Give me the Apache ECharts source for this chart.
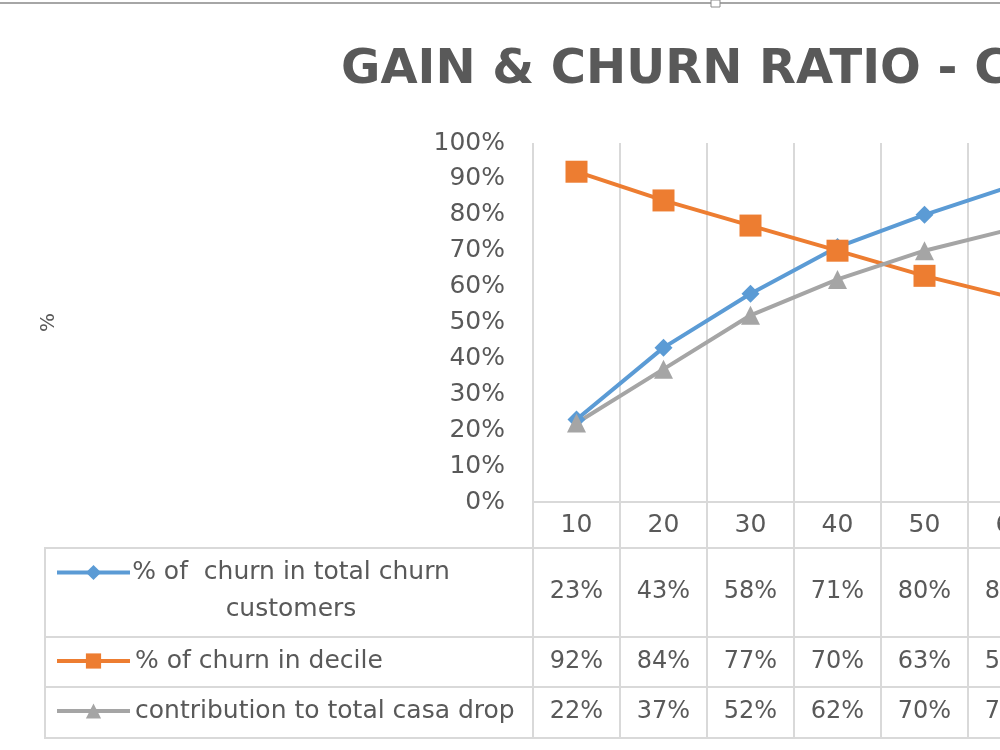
<!DOCTYPE html>
<html>
<head>
<meta charset="utf-8">
<script src="https://cdn.jsdelivr.net/npm/echarts@6/dist/echarts.min.js"></script>
<style>
  html, body { margin: 0; padding: 0; background: #fff; overflow: hidden; }
  #chart { width: 1100px; height: 750px; }
</style>
</head>
<body>
<div id="chart"></div>
<script>
// deciles (chart is cut on the right, only the first six show)
var categories = ['10', '20', '30', '40', '50', '60'];
var churnTotal = [23, 43, 58, 71, 80, 88];
var churnDecile = [92, 84, 77, 70, 63, 57];
var casaDrop = [22, 37, 52, 62, 70, 76];
var yTicks = [0, 10, 20, 30, 40, 50, 60, 70, 80, 90, 100];
var seriesNames = ['% of  churn in total churn\ncustomers', '% of churn in decile', 'contribution to total casa drop'];
var colors = ['#5b9bd5', '#ed7d31', '#a5a5a5'];

var grey = '#d9d9d9';
var txt = '#595959';
var font = 'DejaVu Sans';
var pct = function (v) { return v + '%'; };

var myChart = echarts.init(document.getElementById('chart'));

// one x axis per table row, stacked under the plot with offset
function rowAxis(data, offset, height, labelGap, size) {
    return {
        type: 'category',
        data: data,
        gridIndex: 0,
        position: 'bottom',
        offset: offset,
        axisLine: { onZero: false, lineStyle: { color: grey, width: 2 } },
        axisTick: { show: true, inside: false, length: height, lineStyle: { color: grey, width: 2 } },
        axisLabel: { interval: 0, margin: labelGap, verticalAlign: 'middle', color: txt, fontSize: size, fontFamily: font },
        splitLine: { show: false }
    };
}

var mainX = rowAxis(categories, 0, 46, 23, 25);
mainX.splitLine = { show: true, lineStyle: { color: grey, width: 2 } };

function legendFor(i, top, rich) {
    return {
        data: [seriesNames[i]],
        orient: 'vertical',
        left: 55,
        top: top,
        padding: 0,
        itemWidth: 73,
        itemHeight: 19,
        selectedMode: false,
        lineStyle: { width: 4 },
        formatter: rich ? function (n) {
            return '{a| }\n' + n.split('\n').map(function (l) { return '{a|' + l + '}'; }).join('\n');
        } : null,
        textStyle: {
            color: txt, fontSize: 25, fontFamily: font, lineHeight: 30,
            rich: { a: { color: txt, fontSize: 25, fontFamily: font, lineHeight: 37, width: 312, align: 'center' } }
        }
    };
}

var option = {
    animation: false,
    backgroundColor: '#fff',
    title: {
        text: 'GAIN & CHURN RATIO - CASA',
        left: 336,
        top: 42,
        textStyle: { color: txt, fontSize: 48, fontWeight: 'bold', fontFamily: font }
    },
    legend: [legendFor(0, 517, true), legendFor(1, 646), legendFor(2, 696)],
    grid: { left: 533, top: 143, width: 522, height: 359, containLabel: false },
    xAxis: [
        mainX,
        rowAxis(churnTotal.map(pct), 46, 89, 44, 24),
        rowAxis(churnDecile.map(pct), 135, 50, 25, 24),
        rowAxis(casaDrop.map(pct), 185, 51, 25, 24)
    ],
    yAxis: {
        type: 'value',
        min: yTicks[0],
        max: yTicks[yTicks.length - 1],
        interval: yTicks[1] - yTicks[0],
        name: '%',
        nameLocation: 'middle',
        nameGap: 474,
        nameTextStyle: { color: txt, fontSize: 20, fontFamily: font },
        axisLine: { show: false },
        axisTick: { show: false },
        splitLine: { show: false },
        axisLabel: { formatter: '{value}%', margin: 28, color: txt, fontSize: 25, fontFamily: font }
    },
    series: [
        {
            name: seriesNames[0], type: 'line', data: churnTotal,
            symbol: 'diamond', symbolSize: 18,
            itemStyle: { color: colors[0] },
            lineStyle: { color: colors[0], width: 4 }
        },
        {
            name: seriesNames[1], type: 'line', data: churnDecile,
            symbol: 'rect', symbolSize: 22,
            itemStyle: { color: colors[1] },
            lineStyle: { color: colors[1], width: 4 }
        },
        {
            name: seriesNames[2], type: 'line', data: casaDrop,
            symbol: 'triangle', symbolSize: 19,
            itemStyle: { color: colors[2] },
            lineStyle: { color: colors[2], width: 4 }
        }
    ],
    graphic: [
        // chart frame / selection edge at top
        { type: 'line', shape: { x1: 0, y1: 3, x2: 1100, y2: 3 }, style: { stroke: '#a6a6a6', lineWidth: 2 } },
        { type: 'rect', shape: { x: 711, y: 0, width: 9, height: 7 }, style: { fill: '#fff', stroke: '#8c8c8c', lineWidth: 1 } },
        // label column of the data table
        { type: 'rect', shape: { x: 45, y: 548, width: 488, height: 190 }, style: { fill: 'none', stroke: grey, lineWidth: 2 } },
        { type: 'line', shape: { x1: 45, y1: 637, x2: 533, y2: 637 }, style: { stroke: grey, lineWidth: 2 } },
        { type: 'line', shape: { x1: 45, y1: 687, x2: 533, y2: 687 }, style: { stroke: grey, lineWidth: 2 } },
        { type: 'line', shape: { x1: 533, y1: 738, x2: 1100, y2: 738 }, style: { stroke: grey, lineWidth: 2 } }
    ]
};

myChart.setOption(option);
</script>
</body>
</html>
